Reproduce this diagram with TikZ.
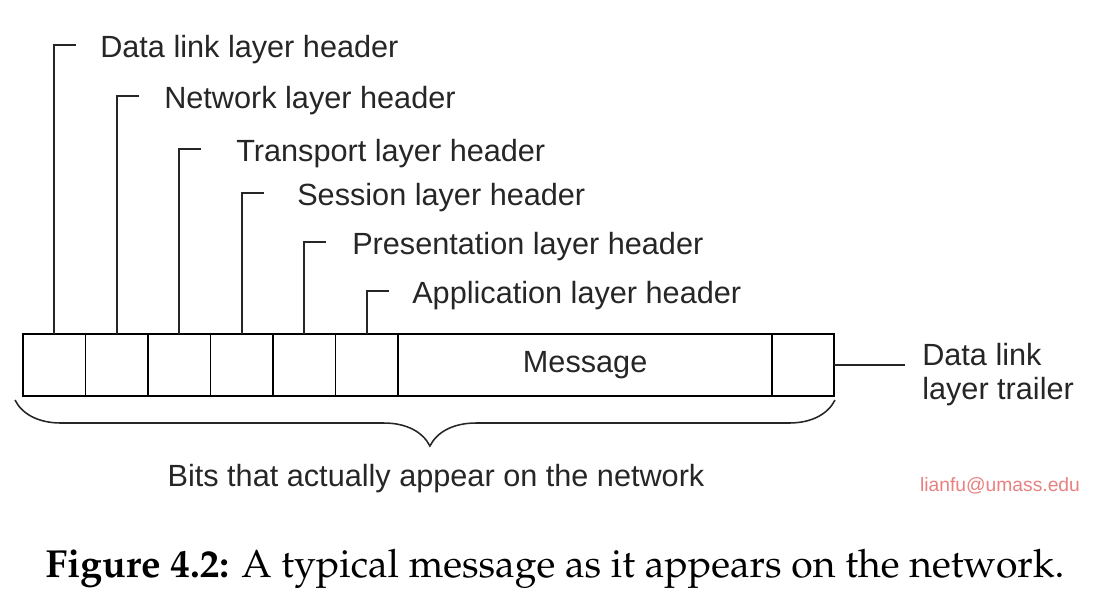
\documentclass[tikz,border=0pt]{standalone}
\usepackage[T1,TU]{fontenc}
\usepackage{fontspec}
\setsansfont{Liberation Sans}
\usetikzlibrary{positioning,calc,decorations.pathreplacing}

\tikzset{
  cell/.style={draw, line width=1.3pt, minimum width=1.5625cm, minimum height=1.55cm, inner sep=0pt, outer sep=0pt},
  lbl/.style={font=\sffamily\fontsize{21.8}{24.2}\selectfont, inner sep=0pt, text=black!85},
  wire/.style={line width=1.3pt, black!85},
}

\begin{document}
\begin{tikzpicture}[x=0.025cm, y=-0.025cm]
            \useasboundingbox (0,0) rectangle (1112,608);

            \node [cell] (c1) at (54.25,365) {};
            \node [cell, right=0pt of c1] (c2) {};
            \node [cell, right=0pt of c2] (c3) {};
            \node [cell, right=0pt of c3] (c4) {};
            \node [cell, right=0pt of c4] (c5) {};
            \node [cell, right=0pt of c5] (c6) {};
            \node [cell, right=0pt of c6, minimum width=9.35cm, lbl] (msg) {\raisebox{-2\pgflinewidth}{Message}};
            \node [cell, right=0pt of msg, minimum width=1.55cm] (trl) {};

            \foreach \i/\tx/\ty/\lab in {1/100/50/Data link layer header,
                                          2/164/101/Network layer header,
                                          3/236/154/Transport layer header,
                                          4/297/198/Session layer header,
                                          5/352/247/Presentation layer header,
                                          6/412/296/Application layer header} {
              \node [lbl, anchor=west] (h\i) at (\tx,\ty) {\lab};
              \coordinate (k\i) at ($(c\i.north |- h\i.west)+(22,-5)$);
              \draw [wire] (c\i.north) |- (k\i);
            }

            \coordinate (t1) at (905,365);
            \draw [wire] (trl.east) -- (t1);
            \node [lbl, anchor=west, align=left] (tr) at (922,375) {Data link\\layer trailer};

            \coordinate (b1) at (15,400);
            \coordinate (b2) at (835,400);
            \draw [wire, line width=1.1pt, decorate, decoration={brace, mirror, amplitude=1.15cm, aspect=0.506}] (b1) -- (b2);
            \node [lbl] (bits) at (436,479) {Bits that actually appear on the network};

            \node [font=\sffamily\fontsize{13.7}{16}\selectfont, text={rgb,255:red,232;green,128;blue,128}] (wm) at (1000,486) {lianfu@umass.edu};

            \node [font=\usefont{T1}{ppl}{m}{n}\fontsize{27.8}{32}\selectfont] (cap) at (555,569) {{\usefont{T1}{ppl}{b}{n}Figure 4.2:} A typical message as it appears on the network.};
        \end{tikzpicture}
\end{document}
